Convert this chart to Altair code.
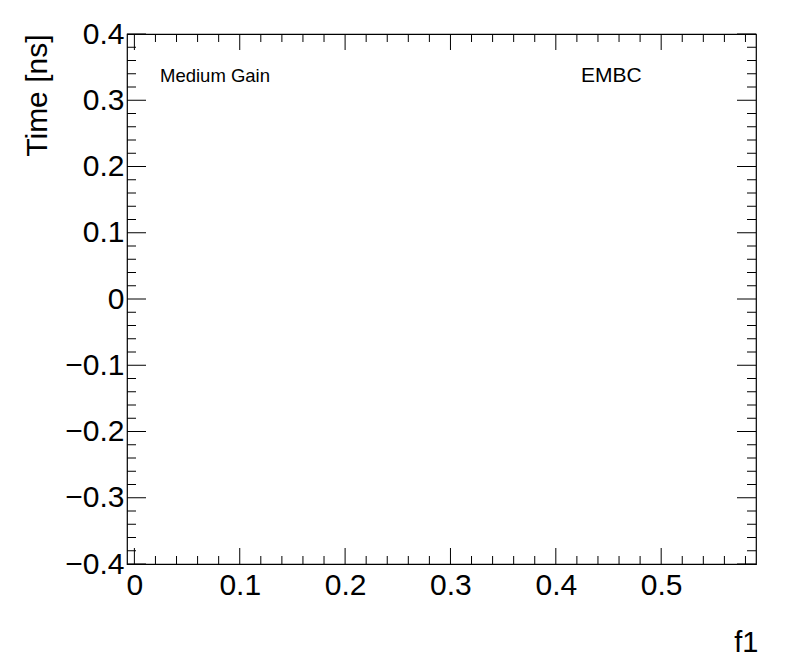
import altair as alt
import pandas as pd

# ---- data ----
x_domain = [-0.007, 0.590]
y_domain = [-0.4, 0.4]
x_major = [0.0, 0.1, 0.2, 0.3, 0.4, 0.5]
x_minor = [0.02, 0.04, 0.06, 0.08, 0.12, 0.14, 0.16, 0.18, 0.22, 0.24, 0.26, 0.28,
           0.32, 0.34, 0.36, 0.38, 0.42, 0.44, 0.46, 0.48, 0.52, 0.54, 0.56, 0.58]
y_major = [-0.4, -0.3, -0.2, -0.1, 0.0, 0.1, 0.2, 0.3, 0.4]
y_minor = [-0.38, -0.36, -0.34, -0.32, -0.28, -0.26, -0.24, -0.22, -0.18, -0.16, -0.14, -0.12,
           -0.08, -0.06, -0.04, -0.02, 0.02, 0.04, 0.06, 0.08, 0.12, 0.14, 0.16, 0.18,
           0.22, 0.24, 0.26, 0.28, 0.32, 0.34, 0.36, 0.38]
x_title = "f1"
y_title = "Time [ns]"
label_left = ["Medium Gain"]
label_right = ["EMBC"]

W, H = 629, 530
FONT = "Liberation Sans"
MAJ_Y, MIN_Y = 19, 9
MAJ_X, MIN_X = 16, 8

xs = alt.Scale(domain=x_domain, nice=False, zero=False)
ys = alt.Scale(domain=y_domain, nice=False, zero=False)

def ytick(vals, x0, x1):
    return alt.Chart(pd.DataFrame({"v": vals})).mark_rule(color="black", strokeWidth=1).encode(
        y=alt.Y("v:Q", scale=ys, axis=None), x=alt.value(x0), x2=alt.value(x1))

def xtick(vals, y0, y1):
    return alt.Chart(pd.DataFrame({"v": vals})).mark_rule(color="black", strokeWidth=1).encode(
        x=alt.X("v:Q", scale=xs, axis=None), y=alt.value(y0), y2=alt.value(y1))

axes = alt.Chart(pd.DataFrame({"x": [0.0], "y": [0.0]})).mark_point(opacity=0).encode(
    x=alt.X("x:Q", scale=xs, axis=alt.Axis(
        orient="bottom",
        values=x_major, format=".1~f", ticks=False, domain=False, grid=False,
        labelFont=FONT, labelFontSize=30, labelColor="black",
        labelBaseline="alphabetic", labelPadding=30, labelFlush=False, labelOverlap=False,
        title=x_title, titleFont=FONT, titleFontSize=29, titleFontWeight="normal",
        titleColor="black", titleX=W + 2, titleY=87, titleAlign="right",
        titleBaseline="alphabetic")),
    y=alt.Y("y:Q", scale=ys, axis=alt.Axis(
        orient="left",
        values=y_major, format=".1~f", ticks=False, domain=False, grid=False,
        labelFont=FONT, labelFontSize=30, labelColor="black",
        labelBaseline="middle", labelPadding=3, labelFlush=False, labelOverlap=False,
        title=y_title, titleFont=FONT, titleFontSize=30, titleFontWeight="normal",
        titleColor="black", titleX=-81, titleY=0, titleAngle=270, titleAlign="right",
        titleBaseline="alphabetic")),
)

t1 = alt.Chart(pd.DataFrame({"t": label_left})).mark_text(
    font=FONT, fontSize=18.5, align="left", baseline="alphabetic", color="black").encode(
    text="t:N", x=alt.value(33), y=alt.value(48))
t2 = alt.Chart(pd.DataFrame({"t": label_right})).mark_text(
    font=FONT, fontSize=21, align="left", baseline="alphabetic", color="black").encode(
    text="t:N", x=alt.value(454), y=alt.value(48))

chart = alt.layer(
    axes,
    ytick(y_major, 0, MAJ_Y), ytick(y_minor, 0, MIN_Y),
    ytick(y_major, W - MAJ_Y, W), ytick(y_minor, W - MIN_Y, W),
    xtick(x_major, H - MAJ_X, H), xtick(x_minor, H - MIN_X, H),
    xtick(x_major, 0, MAJ_X), xtick(x_minor, 0, MIN_X),
    t1, t2,
).resolve_axis(x="independent", y="independent").properties(
    width=W, height=H,
    autosize=alt.AutoSizeParams(type="none"),
    padding={"left": 119, "top": 26, "right": 30, "bottom": 95},
).configure_view(stroke="black", strokeWidth=1.2)

chart.save("out.html", embed_options={"renderer": "svg", "actions": False})
